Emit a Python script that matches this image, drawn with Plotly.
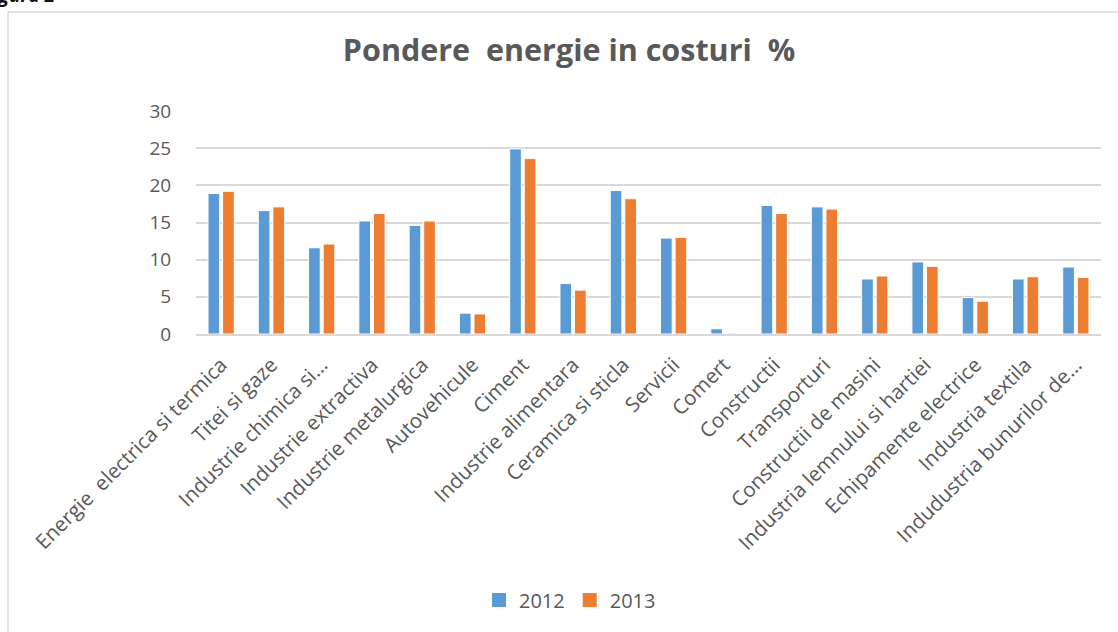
import plotly.graph_objects as go

NB = "\u00a0"
categories = [
    "Energie" + NB + " electrica si termica", "Titei si gaze", "Industrie chimica si...",
    "Industrie extractiva", "Industrie metalurgica", "Autovehicule", "Ciment",
    "Industrie alimentara", "Ceramica si sticla", "Servicii", "Comert",
    "Constructii", "Transporturi", "Constructii de masini",
    "Industria lemnului si hartiei", "Echipamente electrice",
    "Industria textila", "Indudustria bunurilor de...",
]
values_2012 = [18.9, 16.6, 11.6, 15.2, 14.6, 2.8, 24.9, 6.8, 19.3, 12.9, 0.7,
               17.3, 17.1, 7.4, 9.7, 4.9, 7.4, 9.0]
values_2013 = [19.2, 17.1, 12.1, 16.2, 15.2, 2.7, 23.6, 5.9, 18.2, 13.0, 0.1,
               16.2, 16.8, 7.8, 9.1, 4.4, 7.7, 7.6]
series_names = ["2012", "2013"]
y_ticks = [0, 5, 10, 15, 20, 25, 30]
title_text = "Pondere" + NB + " energie in costuri" + NB + " %"

BLUE = "#5B9BD5"
ORANGE = "#ED7D31"
TEXT = "#595959"
FONT = "Open Sans"
colors = [BLUE, ORANGE]

fig = go.Figure()
for name, vals, col in zip(series_names, [values_2012, values_2013], colors):
    fig.add_trace(go.Bar(x=categories, y=vals, name=name, showlegend=False,
                         marker=dict(color=col, line=dict(color="white", width=1))))
# legend entries with larger square swatches
for name, col in zip(series_names, colors):
    fig.add_trace(go.Scatter(x=[None], y=[None], mode="markers", name=name,
                             marker=dict(symbol="square", size=14, color=col)))

W, H = 1118, 632
L, R, T, B = 196, 17, 111, 298
pw, ph = W - L - R, H - T - B

def px_x(p):
    return (p - L) / pw

def px_y(p):
    return (H - B - p) / ph

fig.update_layout(
    width=W, height=H,
    margin=dict(l=L, r=R, t=T, b=B, autoexpand=False),
    paper_bgcolor="white", plot_bgcolor="white",
    font=dict(family=FONT, color=TEXT, size=19),
    title=dict(text="<b>" + title_text + "</b>", x=569 / W, xref="container",
               y=1 - 50 / H, yanchor="middle", xanchor="center",
               font=dict(family=FONT, size=30.5, color=TEXT)),
    bargap=0.42, bargroupgap=0.2,
    barmode="group",
    showlegend=True,
    legend=dict(orientation="h", x=570 / W, xanchor="center", xref="container",
                y=1 - 600 / H, yref="container", yanchor="middle",
                font=dict(family=FONT, size=20, color=TEXT),
                itemwidth=30, tracegroupgap=0, traceorder="normal"),
    xaxis=dict(tickangle=-45, tickfont=dict(family=FONT, size=20.5, color=TEXT),
               showgrid=False, showline=True, linecolor="#d9d9d9", linewidth=1.5,
               ticks="outside", ticklen=9, tickcolor="rgba(0,0,0,0)", fixedrange=True),
    yaxis=dict(range=[0, 30], tickvals=y_ticks, ticktext=[str(v) for v in y_ticks],
               tickfont=dict(family=FONT, size=19, color=TEXT),
               showgrid=True, gridcolor="#d9d9d9", gridwidth=1.5,
               zeroline=False, showline=False, ticks="outside", ticklen=20,
               tickcolor="rgba(0,0,0,0)", fixedrange=True),
    shapes=[
        dict(type="line", xref="paper", yref="paper",
             x0=px_x(8), x1=px_x(8), y0=px_y(12), y1=px_y(H + 5),
             line=dict(color="#d9d9d9", width=1.5)),
        dict(type="line", xref="paper", yref="paper",
             x0=px_x(8), x1=px_x(W + 5), y0=px_y(12), y1=px_y(12),
             line=dict(color="#d9d9d9", width=1.5)),
    ],
    annotations=[
        dict(text="<b><i>Figura 2</i></b>", xref="paper", yref="paper",
             x=px_x(-19), y=px_y(5), xanchor="left", yanchor="bottom",
             showarrow=False, yshift=-5,
             font=dict(family=FONT, size=19, color="#111111")),
    ],
)

fig.write_html("out.html", config={"displayModeBar": False},
               post_script="document.body.style.margin='0';document.body.style.overflow='hidden';")
